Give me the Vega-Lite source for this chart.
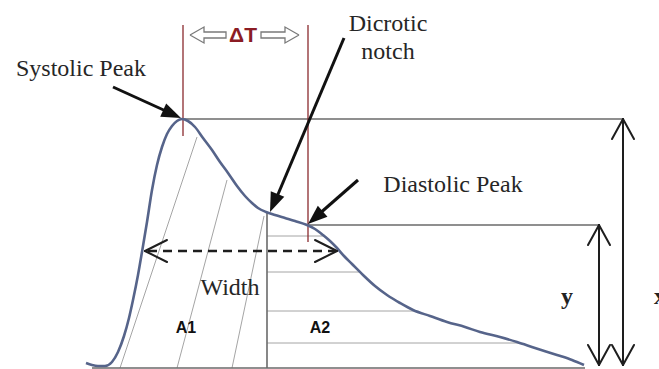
{
  "$schema": "https://vega.github.io/schema/vega-lite/v6.json",
  "width": 659,
  "height": 369,
  "autosize": {"type": "none"},
  "padding": 0,
  "background": "white",
  "config": {"view": {"stroke": null}},
  "datasets": {
    "pulse": [
      {"t": 86, "amp": 5}, {"t": 92, "amp": 3}, {"t": 98, "amp": 2}, {"t": 105, "amp": 2},
      {"t": 112, "amp": 6}, {"t": 118, "amp": 16}, {"t": 124, "amp": 32}, {"t": 129, "amp": 50},
      {"t": 133, "amp": 68}, {"t": 138, "amp": 93}, {"t": 142, "amp": 116}, {"t": 147, "amp": 146},
      {"t": 152, "amp": 178}, {"t": 157, "amp": 203}, {"t": 162, "amp": 221}, {"t": 167, "amp": 234},
      {"t": 172, "amp": 242}, {"t": 177, "amp": 247}, {"t": 182, "amp": 249}, {"t": 188, "amp": 247},
      {"t": 195, "amp": 241}, {"t": 203, "amp": 230}, {"t": 212, "amp": 218}, {"t": 220, "amp": 206},
      {"t": 228, "amp": 195}, {"t": 237, "amp": 182}, {"t": 245, "amp": 172}, {"t": 252, "amp": 165},
      {"t": 258, "amp": 160}, {"t": 266, "amp": 156}, {"t": 275, "amp": 153}, {"t": 285, "amp": 150},
      {"t": 295, "amp": 147}, {"t": 307, "amp": 143}, {"t": 315, "amp": 139}, {"t": 323, "amp": 133},
      {"t": 330, "amp": 127}, {"t": 337, "amp": 120}, {"t": 344, "amp": 112}, {"t": 352, "amp": 104},
      {"t": 363, "amp": 93}, {"t": 375, "amp": 82}, {"t": 387, "amp": 73}, {"t": 400, "amp": 65},
      {"t": 413, "amp": 58}, {"t": 430, "amp": 52}, {"t": 447, "amp": 46}, {"t": 465, "amp": 41},
      {"t": 480, "amp": 36}, {"t": 500, "amp": 31}, {"t": 517, "amp": 26}, {"t": 535, "amp": 20},
      {"t": 557, "amp": 13}, {"t": 572, "amp": 8}, {"t": 584, "amp": 3}
    ],
    "segments": [
      {"kind": "guide", "t": 183, "amp": 249, "t2": 623, "amp2": 249},
      {"kind": "guide", "t": 308, "amp": 143, "t2": 599, "amp2": 143},
      {"kind": "guide", "t": 92, "amp": 0, "t2": 585, "amp2": 0},
      {"kind": "guide", "t": 267, "amp": 156, "t2": 267, "amp2": 0},

      {"kind": "hatch", "t": 267, "amp": 132, "t2": 324, "amp2": 132},
      {"kind": "hatch", "t": 267, "amp": 96, "t2": 360, "amp2": 96},
      {"kind": "hatch", "t": 267, "amp": 57, "t2": 414, "amp2": 57},
      {"kind": "hatch", "t": 267, "amp": 25, "t2": 520, "amp2": 25},
      {"kind": "hatch", "t": 120, "amp": 0, "t2": 197, "amp2": 231},
      {"kind": "hatch", "t": 177, "amp": 0, "t2": 227, "amp2": 188},
      {"kind": "hatch", "t": 232, "amp": 0, "t2": 264, "amp2": 152},

      {"kind": "marker", "t": 183, "amp": 343, "t2": 183, "amp2": 232},
      {"kind": "marker", "t": 308, "amp": 343, "t2": 308, "amp2": 126},

      {"kind": "span", "t": 623, "amp": 249, "t2": 623, "amp2": 3},
      {"kind": "span", "t": 599, "amp": 143, "t2": 599, "amp2": 3},
      {"kind": "span", "t": 612, "amp": 229, "t2": 623, "amp2": 249},
      {"kind": "span", "t": 634, "amp": 229, "t2": 623, "amp2": 249},
      {"kind": "span", "t": 612, "amp": 23, "t2": 623, "amp2": 3},
      {"kind": "span", "t": 634, "amp": 23, "t2": 623, "amp2": 3},
      {"kind": "span", "t": 588, "amp": 123, "t2": 599, "amp2": 143},
      {"kind": "span", "t": 610, "amp": 123, "t2": 599, "amp2": 143},
      {"kind": "span", "t": 588, "amp": 23, "t2": 599, "amp2": 3},
      {"kind": "span", "t": 610, "amp": 23, "t2": 599, "amp2": 3},
      {"kind": "span", "t": 167, "amp": 128, "t2": 145, "amp2": 117},
      {"kind": "span", "t": 167, "amp": 106, "t2": 145, "amp2": 117},
      {"kind": "span", "t": 315, "amp": 128, "t2": 337, "amp2": 117},
      {"kind": "span", "t": 315, "amp": 106, "t2": 337, "amp2": 117},

      {"kind": "width", "t": 148, "amp": 117, "t2": 335, "amp2": 117},

      {"kind": "pointer", "t": 113, "amp": 281, "t2": 168, "amp2": 256},
      {"kind": "pointer", "t": 344, "amp": 330, "t2": 276, "amp2": 169},
      {"kind": "pointer", "t": 358, "amp": 188, "t2": 318, "amp2": 153}
    ],
    "heads": [
      {"name": "systolic", "t": 181, "amp": 250},
      {"name": "dicrotic", "t": 270, "amp": 156},
      {"name": "diastolic", "t": 308, "amp": 144}
    ],
    "hollow": [
      {"g": "left", "o": 1, "t": 190, "amp": 333}, {"g": "left", "o": 2, "t": 204, "amp": 341},
      {"g": "left", "o": 3, "t": 204, "amp": 336}, {"g": "left", "o": 4, "t": 226, "amp": 336},
      {"g": "left", "o": 5, "t": 226, "amp": 330}, {"g": "left", "o": 6, "t": 204, "amp": 330},
      {"g": "left", "o": 7, "t": 204, "amp": 325}, {"g": "left", "o": 8, "t": 190, "amp": 333},
      {"g": "right", "o": 1, "t": 299, "amp": 333}, {"g": "right", "o": 2, "t": 285, "amp": 341},
      {"g": "right", "o": 3, "t": 285, "amp": 336}, {"g": "right", "o": 4, "t": 261, "amp": 336},
      {"g": "right", "o": 5, "t": 261, "amp": 330}, {"g": "right", "o": 6, "t": 285, "amp": 330},
      {"g": "right", "o": 7, "t": 285, "amp": 325}, {"g": "right", "o": 8, "t": 299, "amp": 333}
    ],
    "labels": [
      {"role": "caption", "text": "Systolic Peak", "t": 81, "amp": 299},
      {"role": "caption", "text": "Dicrotic", "t": 388, "amp": 344},
      {"role": "caption", "text": "notch", "t": 388, "amp": 316},
      {"role": "caption", "text": "Diastolic Peak", "t": 453, "amp": 183},
      {"role": "caption", "text": "Width", "t": 230, "amp": 80},
      {"role": "area", "text": "A1", "t": 186, "amp": 40},
      {"role": "area", "text": "A2", "t": 320, "amp": 40},
      {"role": "axis", "text": "y", "t": 567, "amp": 71},
      {"role": "axis", "text": "x", "t": 660, "amp": 71},
      {"role": "delta", "text": "ΔT", "t": 243, "amp": 332}
    ]
  },
  "encoding": {
    "x": {"field": "t", "type": "quantitative", "scale": {"domain": [0, 659], "nice": false, "zero": false}, "axis": null},
    "y": {"field": "amp", "type": "quantitative", "scale": {"domain": [-1, 368], "nice": false, "zero": false}, "axis": null}
  },
  "layer": [
    {
      "data": {"name": "segments"},
      "transform": [{"filter": "datum.kind === 'hatch'"}],
      "mark": {"type": "rule", "color": "#9a9a9a", "strokeWidth": 0.9},
      "encoding": {"x2": {"field": "t2"}, "y2": {"field": "amp2"}}
    },
    {
      "data": {"name": "segments"},
      "transform": [{"filter": "datum.kind === 'guide'"}],
      "mark": {"type": "rule", "color": "#6a6a6a", "strokeWidth": 1.6},
      "encoding": {"x2": {"field": "t2"}, "y2": {"field": "amp2"}}
    },
    {
      "data": {"name": "segments"},
      "transform": [{"filter": "datum.kind === 'marker'"}],
      "mark": {"type": "rule", "color": "#8a2a2e", "strokeWidth": 1.3},
      "encoding": {"x2": {"field": "t2"}, "y2": {"field": "amp2"}}
    },
    {
      "data": {"name": "pulse"},
      "mark": {"type": "line", "color": "#56648a", "strokeWidth": 2.6, "interpolate": "monotone"},
      "encoding": {}
    },
    {
      "data": {"name": "segments"},
      "transform": [{"filter": "datum.kind === 'span'"}],
      "mark": {"type": "rule", "color": "#1e1e1e", "strokeWidth": 2, "strokeCap": "round"},
      "encoding": {"x2": {"field": "t2"}, "y2": {"field": "amp2"}}
    },
    {
      "data": {"name": "segments"},
      "transform": [{"filter": "datum.kind === 'width'"}],
      "mark": {"type": "rule", "color": "#1e1e1e", "strokeWidth": 2.6, "strokeDash": [9, 6]},
      "encoding": {"x2": {"field": "t2"}, "y2": {"field": "amp2"}}
    },
    {
      "data": {"name": "segments"},
      "transform": [{"filter": "datum.kind === 'pointer'"}],
      "mark": {"type": "rule", "color": "#111111", "strokeWidth": 3},
      "encoding": {"x2": {"field": "t2"}, "y2": {"field": "amp2"}}
    },
    {
      "data": {"name": "heads"},
      "transform": [{"filter": "datum.name === 'systolic'"}],
      "mark": {"type": "point", "shape": "M0,0L0.75,2L-0.75,2Z", "filled": true, "color": "#111111", "opacity": 1, "size": 380, "angle": 114},
      "encoding": {}
    },
    {
      "data": {"name": "heads"},
      "transform": [{"filter": "datum.name === 'dicrotic'"}],
      "mark": {"type": "point", "shape": "M0,0L0.75,2L-0.75,2Z", "filled": true, "color": "#111111", "opacity": 1, "size": 380, "angle": 202.7},
      "encoding": {}
    },
    {
      "data": {"name": "heads"},
      "transform": [{"filter": "datum.name === 'diastolic'"}],
      "mark": {"type": "point", "shape": "M0,0L0.75,2L-0.75,2Z", "filled": true, "color": "#111111", "opacity": 1, "size": 380, "angle": 228.7},
      "encoding": {}
    },
    {
      "data": {"name": "hollow"},
      "mark": {"type": "line", "color": "#7a7a7a", "strokeWidth": 1.3, "strokeJoin": "miter"},
      "encoding": {"detail": {"field": "g"}, "order": {"field": "o", "type": "quantitative"}}
    },
    {
      "data": {"name": "labels"},
      "transform": [{"filter": "datum.role === 'caption'"}],
      "mark": {"type": "text", "font": "Liberation Serif", "fontSize": 24, "color": "#262626", "baseline": "middle", "align": "center"},
      "encoding": {"text": {"field": "text"}}
    },
    {
      "data": {"name": "labels"},
      "transform": [{"filter": "datum.role === 'area'"}],
      "mark": {"type": "text", "font": "Liberation Sans", "fontSize": 16, "fontWeight": "bold", "color": "#111111", "baseline": "middle", "align": "center"},
      "encoding": {"text": {"field": "text"}}
    },
    {
      "data": {"name": "labels"},
      "transform": [{"filter": "datum.role === 'axis'"}],
      "mark": {"type": "text", "font": "Liberation Serif", "fontSize": 24, "fontWeight": "bold", "color": "#222222", "baseline": "middle", "align": "center"},
      "encoding": {"text": {"field": "text"}}
    },
    {
      "data": {"name": "labels"},
      "transform": [{"filter": "datum.role === 'delta'"}],
      "mark": {"type": "text", "font": "Liberation Sans", "fontSize": 21, "fontWeight": "bold", "color": "#8b1c24", "baseline": "middle", "align": "center"},
      "encoding": {"text": {"field": "text"}}
    }
  ]
}
